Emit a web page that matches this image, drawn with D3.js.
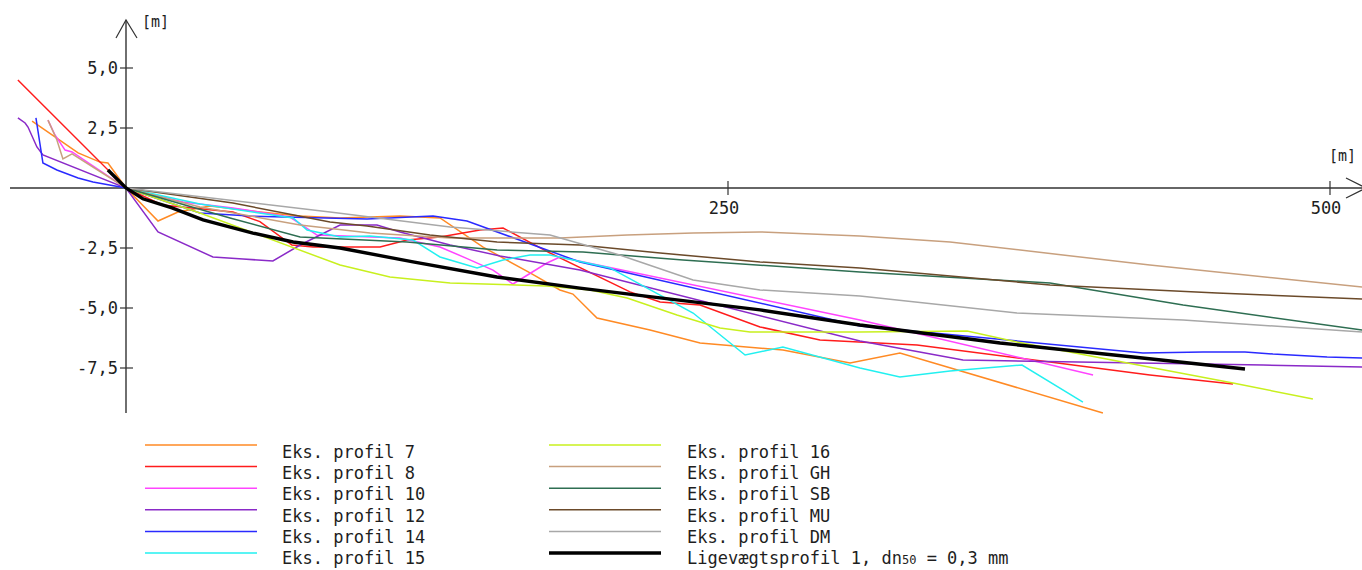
<!DOCTYPE html>
<html>
<head>
<meta charset="utf-8">
<script src="https://cdn.jsdelivr.net/npm/d3@7"></script>
<style>
  html, body { margin: 0; padding: 0; background: #fff; }
  svg { display: block; }
  text { font-family: "DejaVu Sans Mono", "Liberation Mono", monospace; fill: #1e1e1e; }
</style>
</head>
<body>
<svg id="chart" width="1362" height="570"></svg>
<script>
// Measured profiles: [distance from coastline (m), level (m)]
const profil7 = [[-39.0,2.79],[-29.5,2.13],[-19.9,1.46],[-10.8,1.08],[-7.5,1.04],[-5.4,0.75],[0,0],[13.3,-1.375],[21.6,-1.0],[34.9,-0.75],[55.6,-1.0],[72.3,-1.17],[88.9,-1.25],[113.8,-1.17],[130.4,-1.25],[148.3,-2.46],[167.8,-3.54],[180.2,-4.25],[185.6,-4.42],[195.6,-5.42],[217.6,-5.92],[238.4,-6.46],[272.8,-6.75],[300.7,-7.29],[321.4,-6.875],[405.7,-9.375]];
const profil8 = [[-44.9,4.5],[0,0],[15.0,-0.71],[44.4,-1.0],[55.6,-1.4],[68.9,-2.375],[77.7,-2.46],[105.5,-2.46],[116.7,-2.17],[130.4,-2.04],[147.0,-1.75],[156.6,-1.67],[176.1,-2.71],[209.3,-4.33],[221.8,-4.75],[238.4,-4.875],[263.3,-5.79],[288.2,-6.33],[328.5,-6.54],[383.7,-7.25],[425.2,-7.79],[459.7,-8.17]];
const profil10 = [[-32.4,2.83],[-29.5,2.21],[-25.3,1.58],[-22.4,1.5],[0,0],[23.7,-0.58],[44.4,-0.83],[68.1,-1.21],[79.3,-1.96],[113.8,-2.08],[130.4,-2.46],[141.2,-2.92],[152.4,-3.42],[160.7,-4.0],[174.8,-3.125],[180.2,-2.875],[304.8,-5.5],[401.6,-7.79]];
const profil12 = [[-44.9,2.92],[-41.9,2.71],[-40.7,2.54],[-37.0,1.71],[-34.5,1.38],[0,0],[13.3,-1.83],[36.1,-2.875],[48.6,-2.96],[61.0,-3.04],[72.3,-2.375],[88.9,-1.54],[104.2,-1.54],[113.8,-1.83],[134.6,-2.375],[155.3,-2.83],[188.5,-3.42],[304.8,-6.375],[347.6,-7.17],[472.2,-7.375],[513.3,-7.46]];
const profil14 = [[-37.4,2.92],[-34.5,1.04],[-28.7,0.75],[-19.9,0.42],[-13.7,0.25],[0,0],[30.7,-1.04],[51.5,-1.17],[100.1,-1.29],[127.5,-1.17],[141.6,-1.375],[188.5,-3.08],[304.8,-5.75],[422.3,-6.875],[447.3,-6.83],[464.7,-6.83],[476.3,-6.92],[498.8,-7.04],[513.3,-7.08]];
const profil15 = [[0,0],[30.7,-0.67],[69.4,-1.25],[75.2,-1.75],[88.9,-2.04],[101.3,-2.0],[119.2,-2.17],[130.4,-2.875],[145.8,-3.33],[156.6,-3.0],[167.8,-2.79],[176.1,-2.79],[201.0,-3.33],[235.5,-5.21],[257.1,-6.96],[272.8,-6.625],[304.8,-7.5],[321.4,-7.875],[342.2,-7.625],[372.1,-7.375],[397.4,-8.92]];
const profil16 = [[0,0],[30.7,-1.04],[88.9,-3.21],[109.6,-3.71],[134.6,-3.96],[174.8,-4.08],[192.7,-4.25],[208.1,-4.58],[228.8,-5.29],[246.7,-5.83],[259.1,-6.0],[304.8,-6.0],[349.3,-5.96],[370.0,-6.42],[459.7,-8.125],[492.9,-8.79]];
const profilGH = [[-32.4,2.83],[-28.7,2.0],[-26.2,1.21],[-22.4,1.42],[0,0],[30.7,-0.79],[72.3,-1.54],[101.3,-1.875],[134.6,-2.08],[180.2,-2.08],[208.1,-1.96],[235.5,-1.875],[263.3,-1.83],[304.8,-2.0],[342.2,-2.25],[425.2,-3.21],[513.3,-4.125]];
const profilSB = [[0,0],[43.2,-1.25],[72.3,-2.04],[116.7,-2.25],[154.1,-2.58],[189.8,-2.67],[231.3,-3.0],[304.8,-3.5],[383.7,-3.96],[439.0,-4.875],[513.3,-5.92]];
const profilMU = [[0,0],[44.4,-0.625],[84.7,-1.42],[100.1,-1.58],[126.2,-1.96],[154.1,-2.25],[188.5,-2.375],[221.8,-2.71],[263.3,-3.08],[304.8,-3.33],[383.7,-4.04],[453.1,-4.375],[513.3,-4.625]];
const profilDM = [[0,0],[84.7,-1.0],[134.6,-1.625],[176.1,-1.96],[205.0,-2.79],[235.5,-3.83],[263.3,-4.25],[304.8,-4.5],[370.0,-5.21],[439.0,-5.5],[513.3,-6.0]];
// Equilibrium profile, dn50 = 0.3 mm
const ligevaegt1 = [[-7.5,0.75],[0,0],[7.0,-0.45],[19.1,-0.83],[32.0,-1.33],[52.7,-1.88],[69.4,-2.25],[88.9,-2.5],[119.2,-3.08],[154.0,-3.71],[188.5,-4.17],[221.8,-4.58],[263.3,-5.08],[304.8,-5.71],[363.0,-6.46],[418.2,-7.04],[464.7,-7.54]];

const seriesData = [profil7, profil8, profil10, profil12, profil14, profil15,
                    profil16, profilGH, profilSB, profilMU, profilDM, ligevaegt1];
const seriesNames = ["Eks. profil 7", "Eks. profil 8", "Eks. profil 10", "Eks. profil 12",
                     "Eks. profil 14", "Eks. profil 15", "Eks. profil 16", "Eks. profil GH",
                     "Eks. profil SB", "Eks. profil MU", "Eks. profil DM", "Ligevægtsprofil 1, dn"];
const seriesColors = ["#ff8a24", "#ff1c1c", "#ff44ff", "#8a2ac8", "#2a2aff", "#22f0f0",
                      "#c8f01e", "#c8a07e", "#2e6e52", "#6b4a2a", "#a8a8a8", "#000000"];

const xTicks = [250, 500];
const yTicks = [5.0, 2.5, -2.5, -5.0, -7.5];

const svg = d3.select("#chart");
const x = d3.scaleLinear().domain([0, 500]).range([126, 1330]);
const y = d3.scaleLinear().domain([0, -7.5]).range([188, 368]);
const axisColor = "#333";

// axes
svg.append("line").attr("x1", 10).attr("x2", 1366).attr("y1", y(0)).attr("y2", y(0))
  .attr("stroke", axisColor).attr("stroke-width", 1.4);
svg.append("line").attr("x1", x(0)).attr("x2", x(0)).attr("y1", 20).attr("y2", 413)
  .attr("stroke", axisColor).attr("stroke-width", 1.4);
svg.append("path").attr("d", `M${x(0) - 10},38 L${x(0)},20 L${x(0) + 11},38`)
  .attr("fill", "none").attr("stroke", axisColor).attr("stroke-width", 1.2);
svg.append("path").attr("d", `M1346,178 L1366,${y(0)} L1346,198`)
  .attr("fill", "none").attr("stroke", axisColor).attr("stroke-width", 1.2);

const fmtY = v => d3.format(".1f")(v).replace(".", ",").replace("\u2212", "-");

svg.selectAll(".ytick").data(yTicks).join("line").attr("class", "ytick")
  .attr("x1", x(0) - 6).attr("x2", x(0) + 7)
  .attr("y1", d => y(d)).attr("y2", d => y(d))
  .attr("stroke", axisColor).attr("stroke-width", 1.2);
svg.selectAll(".ylab").data(yTicks).join("text").attr("class", "ylab")
  .attr("x", x(0) - 8).attr("y", d => y(d) + 6)
  .attr("text-anchor", "end").attr("font-size", 17).text(fmtY);

svg.selectAll(".xtick").data(xTicks).join("line").attr("class", "xtick")
  .attr("x1", d => x(d)).attr("x2", d => x(d))
  .attr("y1", y(0) - 7).attr("y2", y(0) + 7)
  .attr("stroke", axisColor).attr("stroke-width", 1.2);
svg.selectAll(".xlab").data(xTicks).join("text").attr("class", "xlab")
  .attr("x", d => x(d) - 4).attr("y", y(0) + 26)
  .attr("text-anchor", "middle").attr("font-size", 17).text(d => d3.format("d")(d));

svg.append("text").attr("x", 142).attr("y", 27).attr("font-size", 15).text("[m]");
svg.append("text").attr("x", 1329).attr("y", 161).attr("font-size", 15).text("[m]");

// profile lines
const line = d3.line().x(d => x(d[0])).y(d => y(d[1]));
svg.append("g").selectAll("path").data(seriesData).join("path")
  .attr("d", line)
  .attr("fill", "none")
  .attr("stroke", (d, i) => seriesColors[i])
  .attr("stroke-width", (d, i) => i === seriesData.length - 1 ? 3.4 : 1.5)
  .attr("stroke-linejoin", "miter");

// legend: two columns of six
const col = i => Math.floor(i / 6);
const row = i => i % 6;
const legLineX = [145, 549];
const legTextX = [282, 687];
const legLineY = d3.scaleLinear().domain([0, 5]).range([445, 553]);
const legTextY = d3.scaleLinear().domain([0, 5]).range([458, 564]);

const leg = svg.append("g");
leg.selectAll("line").data(seriesNames).join("line")
  .attr("x1", (d, i) => legLineX[col(i)]).attr("x2", (d, i) => legLineX[col(i)] + 112)
  .attr("y1", (d, i) => legLineY(row(i))).attr("y2", (d, i) => legLineY(row(i)))
  .attr("stroke", (d, i) => seriesColors[i])
  .attr("stroke-width", (d, i) => i === seriesNames.length - 1 ? 3.4 : 1.5);
const lt = leg.selectAll("text").data(seriesNames).join("text")
  .attr("x", (d, i) => legTextX[col(i)]).attr("y", (d, i) => legTextY(row(i)))
  .attr("font-size", 17).attr("xml:space", "preserve")
  .text(d => d);
lt.filter((d, i) => i === seriesNames.length - 1).each(function () {
  const t = d3.select(this);
  t.append("tspan").attr("font-size", 12).text("50");
  t.append("tspan").text(" = 0,3 mm");
});
</script>
</body>
</html>
